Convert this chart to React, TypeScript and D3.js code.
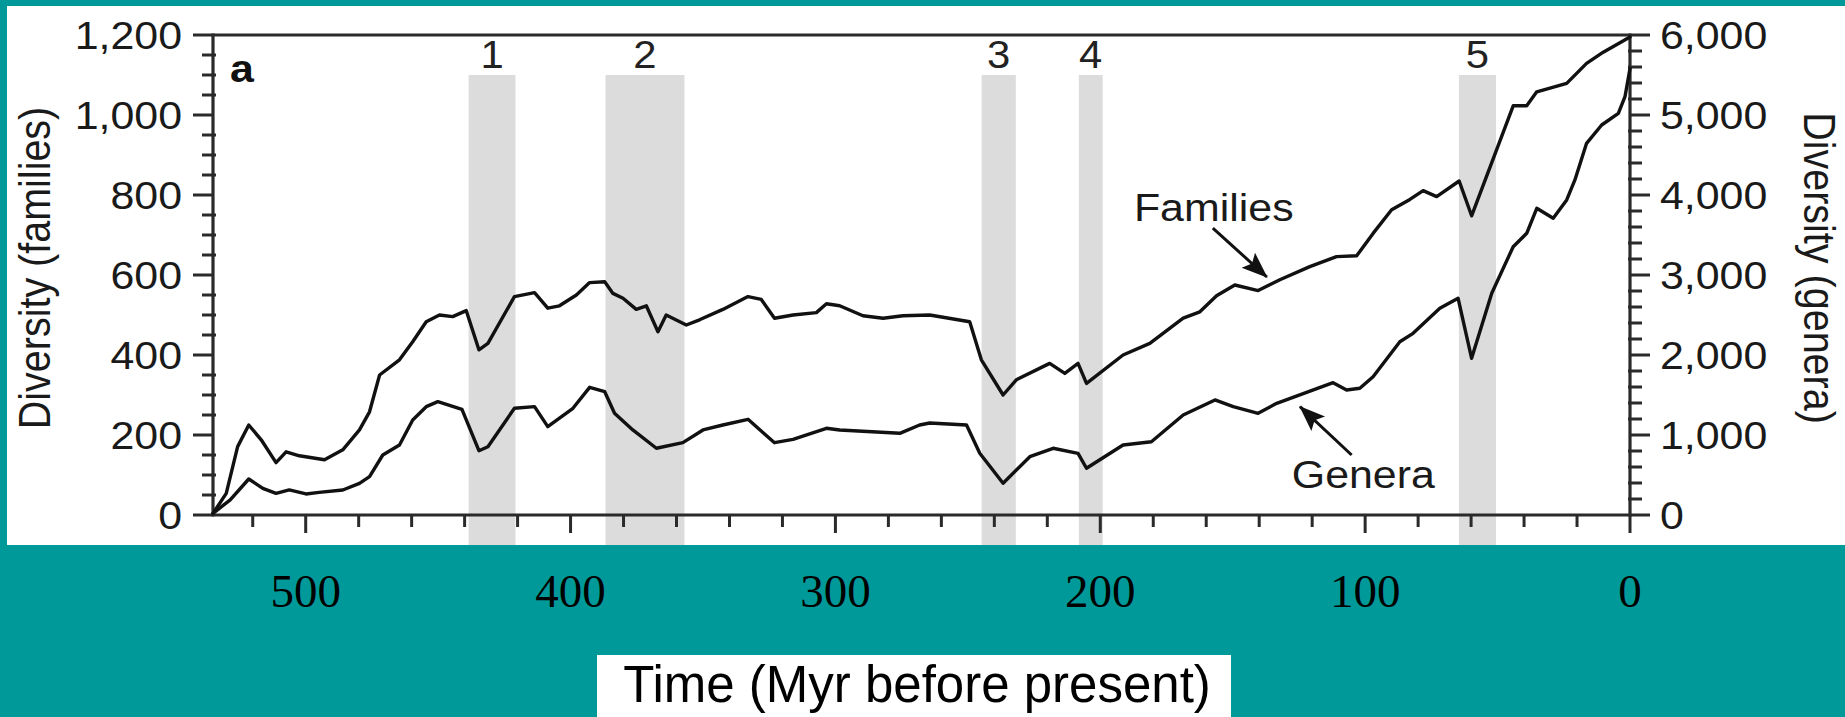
import React from 'react';
import * as d3 from 'd3';

// ---- data ----
const familiesAge = [535, 530, 525.7, 521.5, 516.8, 511.2, 507.4, 502.4, 492.9, 486, 479.7, 475.9, 472.1, 464.6, 459.6, 454.5, 449.5, 444.5, 439.4, 434.6, 431.2, 421.2, 413.6, 408.6, 404.2, 397.8, 392.8, 387.1, 384, 380.2, 375.2, 371.4, 367, 363.9, 356.3, 351.3, 342.5, 333, 328, 323, 316, 307.2, 303.4, 298.4, 289.6, 282, 274.5, 264.4, 249.3, 244.9, 236.7, 231.7, 219.1, 213.4, 208.4, 205.2, 191.4, 181.3, 168.7, 162.4, 156.1, 149.2, 140.4, 132.2, 120.9, 110.8, 103.2, 97, 90, 83.1, 78.1, 73, 64.5, 59.8, 44.1, 39, 35.2, 23.9, 16.4, 10.1, 0];
const familiesCount = [4, 54, 171, 225, 188, 131, 158, 148, 138, 163, 213, 258, 350, 388, 433, 483, 500, 496, 511, 413, 429, 546, 556, 517, 523, 550, 581, 583, 554, 542, 514, 523, 458, 500, 475, 488, 514, 546, 539, 492, 500, 506, 528, 523, 498, 492, 498, 500, 483, 388, 300, 338, 379, 354, 379, 329, 400, 429, 492, 508, 548, 575, 561, 588, 621, 646, 648, 704, 763, 789, 811, 796, 835, 748, 1023, 1023, 1058, 1079, 1129, 1157, 1195];

const generaAge = [535, 528.5, 521.5, 516.2, 511.2, 506.2, 499.9, 494.9, 486, 479.7, 475.9, 470.9, 464.6, 459.6, 454.5, 450.1, 441, 434.6, 431.2, 421.2, 413.6, 408.6, 399.1, 392.8, 387.1, 383.4, 376.5, 367.6, 357.6, 350, 342.5, 333, 323, 316, 303.4, 298.4, 275.7, 268.2, 264.4, 250.5, 245.5, 236.7, 226.6, 217.8, 208.4, 205.2, 191.4, 180.7, 168.7, 156.7, 149.8, 140.4, 133.4, 112.1, 107, 102, 97, 86.9, 81.9, 71.8, 64.9, 59.8, 52.2, 44.1, 39, 35.2, 29, 23.9, 20.8, 16.4, 10.7, 4.4, 1.9, 0];
const generaCount = [21, 188, 450, 333, 271, 313, 263, 283, 313, 396, 479, 750, 875, 1188, 1354, 1417, 1320, 804, 854, 1334, 1354, 1104, 1334, 1596, 1541, 1271, 1063, 834, 904, 1063, 1125, 1196, 904, 946, 1084, 1063, 1021, 1125, 1150, 1125, 771, 396, 729, 834, 771, 584, 875, 916, 1250, 1438, 1354, 1271, 1396, 1654, 1563, 1584, 1729, 2166, 2271, 2584, 2709, 1959, 2771, 3354, 3521, 3834, 3709, 3938, 4188, 4646, 4875, 5021, 5229, 5580];

const bandFrom = [438.5, 386.8, 244.8, 208.1, 64.6];
const bandTo = [420.8, 357.0, 231.9, 199.1, 50.6];
const bandLabels = ['1', '2', '3', '4', '5'];

const timeTicks = [500, 400, 300, 200, 100, 0];
const familyTicks = [0, 200, 400, 600, 800, 1000, 1200];
const generaTicks = [0, 1000, 2000, 3000, 4000, 5000, 6000];

const SANS = '"Liberation Sans", Arial, Helvetica, sans-serif';
const SERIF = '"Liberation Serif", "Times New Roman", serif';
const TEAL = '#009999';
const INK = '#111';
const AXIS = '#2a2a2a';

const fmt = d3.format(',');

export default function App() {
  const W = 1845;
  const H = 717;
  const x = d3.scaleLinear().domain([535, 0]).range([213, 1630]);
  const yF = d3.scaleLinear().domain([0, 1200]).range([515, 35]);
  const yG = d3.scaleLinear().domain([0, 6000]).range([515, 35]);

  const x0 = x(535);
  const x1 = x(0);
  const yBot = yF(0);
  const yTop = yF(1200);

  const famLine = d3
    .line<number>()
    .x((_, i) => x(familiesAge[i]))
    .y((d) => yF(d))(familiesCount);
  const genLine = d3
    .line<number>()
    .x((_, i) => x(generaAge[i]))
    .y((d) => yG(d))(generaCount);

  const leftMinor = d3.range(0, 1201, 50).filter((v) => v % 200 !== 0);
  const rightMinor = d3.range(0, 6001, 200).filter((v) => v % 1000 !== 0);
  const bottomTicks = d3.range(0, 535, 20);

  const stretch = (tx: number, ty: number) => `translate(${tx},${ty}) scale(1.1,1)`;

  // annotation anchors (data coords)
  const famLabel = { t: 187.3, v: 735 };
  const famArrow = { t0: 157.5, v0: 717, t1: 137.1, v1: 595 };
  const genLabel = { t: 127.7, v: 338 };
  const genArrow = { t0: 105.1, v0: 750, t1: 124.6, v1: 1354 };

  return (
    <svg
      width={W}
      height={H}
      viewBox={`0 0 ${W} ${H}`}
      style={{ position: 'absolute', left: 0, top: 0, display: 'block' }}
    >
      <defs>
        <marker
          id="ah"
          viewBox="0 0 26 22"
          refX={25}
          refY={11}
          markerWidth={26}
          markerHeight={22}
          markerUnits="userSpaceOnUse"
          orient="auto"
        >
          <path d="M0,1 L26,11 L0,21 L5,11 Z" fill={INK} />
        </marker>
      </defs>
      <rect x={0} y={0} width={W} height={H} fill={TEAL} />
      <rect x={7} y={6} width={W - 7} height={539} fill="#ffffff" />

      {/* extinction bands */}
      {bandFrom.map((b, i) => (
        <g key={`band${i}`}>
          <rect x={x(b)} y={yF(1100)} width={x(bandTo[i]) - x(b)} height={545 - yF(1100)} fill="#dcdcdc" />
          <text
            transform={stretch((x(b) + x(bandTo[i])) / 2, 68)}
            textAnchor="middle"
            fontFamily={SANS}
            fontSize={38}
            fill="#222"
          >
            {bandLabels[i]}
          </text>
        </g>
      ))}

      {/* frame */}
      <g stroke={AXIS} strokeWidth={3.2} fill="none">
        <line x1={x0} y1={yTop} x2={x1} y2={yTop} />
        <line x1={x0} y1={yBot} x2={x1} y2={yBot} />
        <line x1={x0} y1={yTop - 1.5} x2={x0} y2={yBot + 1.5} />
        <line x1={x1} y1={yTop - 1.5} x2={x1} y2={yBot + 1.5} />
      </g>

      {/* left axis */}
      <g stroke={AXIS} strokeWidth={3}>
        {familyTicks.map((v) => (
          <line key={`lm${v}`} x1={x0 - 20} x2={x0} y1={yF(v)} y2={yF(v)} />
        ))}
        {leftMinor.map((v) => (
          <line key={`ln${v}`} x1={x0 - 11} x2={x0 + 3} y1={yF(v)} y2={yF(v)} />
        ))}
      </g>
      {familyTicks.map((v) => (
        <text
          key={`lt${v}`}
          transform={stretch(x0 - 31, yF(v) + 14)}
          textAnchor="end"
          fontFamily={SANS}
          fontSize={39}
          fill="#1a1a1a"
        >
          {fmt(v)}
        </text>
      ))}

      {/* right axis */}
      <g stroke={AXIS} strokeWidth={3}>
        {generaTicks.map((v) => (
          <line key={`rm${v}`} x1={x1} x2={x1 + 20} y1={yG(v)} y2={yG(v)} />
        ))}
        {rightMinor.map((v) => (
          <line key={`rn${v}`} x1={x1 - 2} x2={x1 + 12} y1={yG(v)} y2={yG(v)} />
        ))}
      </g>
      {generaTicks.map((v) => (
        <text
          key={`rt${v}`}
          transform={stretch(x1 + 30, yG(v) + 14)}
          textAnchor="start"
          fontFamily={SANS}
          fontSize={39}
          fill="#1a1a1a"
        >
          {fmt(v)}
        </text>
      ))}

      {/* bottom ticks */}
      <g stroke={AXIS} strokeWidth={3}>
        {bottomTicks.map((t) => (
          <line key={`bt${t}`} x1={x(t)} x2={x(t)} y1={yBot} y2={yBot + (t % 100 === 0 ? 18 : 12)} />
        ))}
      </g>

      {/* axis titles */}
      <text
        transform={`translate(50,268) rotate(-90) scale(1,1.1)`}
        textAnchor="middle"
        fontFamily={SANS}
        fontSize={39.5}
        fill="#1a1a1a"
      >
        Diversity (families)
      </text>
      <text
        transform={`translate(1804,268) rotate(90) scale(1,1.1)`}
        textAnchor="middle"
        fontFamily={SANS}
        fontSize={39.5}
        fill="#1a1a1a"
      >
        Diversity (genera)
      </text>

      <text transform={stretch(230, 82)} fontFamily={SANS} fontWeight="bold" fontSize={39} fill="#111">
        a
      </text>

      {/* series */}
      <path d={famLine || ''} fill="none" stroke={INK} strokeWidth={3.4} strokeLinejoin="round" strokeLinecap="round" />
      <path d={genLine || ''} fill="none" stroke={INK} strokeWidth={3.4} strokeLinejoin="round" strokeLinecap="round" />

      {/* annotations */}
      <text transform={stretch(x(famLabel.t), yF(famLabel.v))} fontFamily={SANS} fontSize={39} fill="#1a1a1a">
        Families
      </text>
      <line
        x1={x(famArrow.t0)}
        y1={yF(famArrow.v0)}
        x2={x(famArrow.t1)}
        y2={yF(famArrow.v1)}
        stroke={INK}
        strokeWidth={3}
        markerEnd="url(#ah)"
      />
      <text transform={stretch(x(genLabel.t), yG(genLabel.v))} fontFamily={SANS} fontSize={39} fill="#1a1a1a">
        Genera
      </text>
      <line
        x1={x(genArrow.t0)}
        y1={yG(genArrow.v0)}
        x2={x(genArrow.t1)}
        y2={yG(genArrow.v1)}
        stroke={INK}
        strokeWidth={3}
        markerEnd="url(#ah)"
      />

      {/* time labels in the teal strip */}
      {timeTicks.map((t) => (
        <text key={`tl${t}`} x={x(t)} y={607} textAnchor="middle" fontFamily={SERIF} fontSize={47} fill="#000">
          {t}
        </text>
      ))}

      <rect x={597} y={655} width={634} height={62} fill="#ffffff" />
      <text x={917} y={702} textAnchor="middle" fontFamily={SANS} fontSize={51} fill="#000">
        Time (Myr before present)
      </text>
    </svg>
  );
}
